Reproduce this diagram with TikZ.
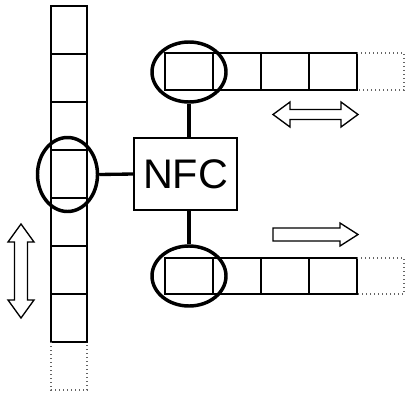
\documentclass[tikz,border=0pt]{standalone}
\usepackage{fontspec}
\setmainfont{Liberation Sans}
\usetikzlibrary{shapes.geometric}

\tikzset{every picture/.style={line width=0.75pt}}
\tikzset{
  cell/.style={line width=2.2pt},
  spare/.style={draw={rgb, 255:red, 100; green, 100; blue, 100 },dotted,line width=1pt},
  sel/.style={draw,ellipse,line width=2.6pt,inner sep=0pt},
  link/.style={line width=2.5pt},
  blockarrow/.style={line width=1pt,fill=white}
}

\begin{document}
\begin{tikzpicture}[x=0.75pt,y=0.75pt,yscale=-1,xscale=1]
	%set diagram left start at 0, and has height of 410
	\path (0,0) rectangle (413,410);

	%Shape: Rectangle [id:tape_left]
	\draw [cell] (51,6) -- (87,6) -- (87,342) -- (51,342) -- cycle ;
	%Straight Lines [id:tape_left_cells]
	\draw [cell] (51,54) -- (87,54) ;
	\draw [cell] (51,102) -- (87,102) ;
	\draw [cell] (51,150) -- (87,150) ;
	\draw [cell] (51,198) -- (87,198) ;
	\draw [cell] (51,246) -- (87,246) ;
	\draw [cell] (51,294) -- (87,294) ;
	%Shape: Rectangle [id:tape_left_spare]
	\draw [spare] (51,342) -- (51,390) -- (87,390) -- (87,342) ;

	%Shape: Rectangle [id:tape_top]
	\draw [cell] (165,53) -- (357,53) -- (357,90) -- (165,90) -- cycle ;
	%Straight Lines [id:tape_top_cells]
	\draw [cell] (213,53) -- (213,90) ;
	\draw [cell] (261,53) -- (261,90) ;
	\draw [cell] (309,53) -- (309,90) ;
	%Shape: Rectangle [id:tape_top_spare]
	\draw [spare] (357,53) -- (404,53) -- (404,90) -- (357,90) ;

	%Shape: Rectangle [id:tape_bottom]
	\draw [cell] (165,258) -- (357,258) -- (357,294) -- (165,294) -- cycle ;
	%Straight Lines [id:tape_bottom_cells]
	\draw [cell] (213,258) -- (213,294) ;
	\draw [cell] (261,258) -- (261,294) ;
	\draw [cell] (309,258) -- (309,294) ;
	%Shape: Rectangle [id:tape_bottom_spare]
	\draw [spare] (357,258) -- (404,258) -- (404,294) -- (357,294) ;

	%Shape: Ellipse [id:heads]
	\node [sel,minimum width=45pt,minimum height=55.5pt] (headL) at (67.5,174.5) {};
	\node [sel,minimum width=55.5pt,minimum height=45pt] (headT) at (189,72) {};
	\node [sel,minimum width=55.5pt,minimum height=45pt] (headB) at (189,276) {};

	% Text Node
	\node [draw,line width=1.2pt,minimum width=77pt,minimum height=54pt,inner sep=0pt,font=\fontsize{31}{31}\selectfont] (nfc) at (185.5,174) {NFC};

	%Straight Lines [id:links]
	\draw [link] (headL.east) -- (nfc.west) ;
	\draw [link] (headT.south) -- (headT.south |- nfc.north) ;
	\draw [link] (headB.north) -- (headB.north |- nfc.south) ;

	%Shape: Left Right Arrow [id:move_top]
	\draw [blockarrow] (273,114.5) -- (290,102) -- (290,109.5) -- (341,109.5) -- (341,102) -- (358,114.5) -- (341,127) -- (341,119.5) -- (290,119.5) -- (290,127) -- cycle ;
	%Shape: Right Arrow [id:move_bottom]
	\draw [blockarrow] (273,228) -- (340,228) -- (340,223) -- (358,234.5) -- (340,246) -- (340,241) -- (273,241) -- cycle ;
	%Shape: Up Down Arrow [id:move_left]
	\draw [blockarrow] (21,224) -- (34,242) -- (27.5,242) -- (27.5,300) -- (34,300) -- (21,318) -- (8,300) -- (14.5,300) -- (14.5,242) -- (8,242) -- cycle ;

\end{tikzpicture}
\end{document}
